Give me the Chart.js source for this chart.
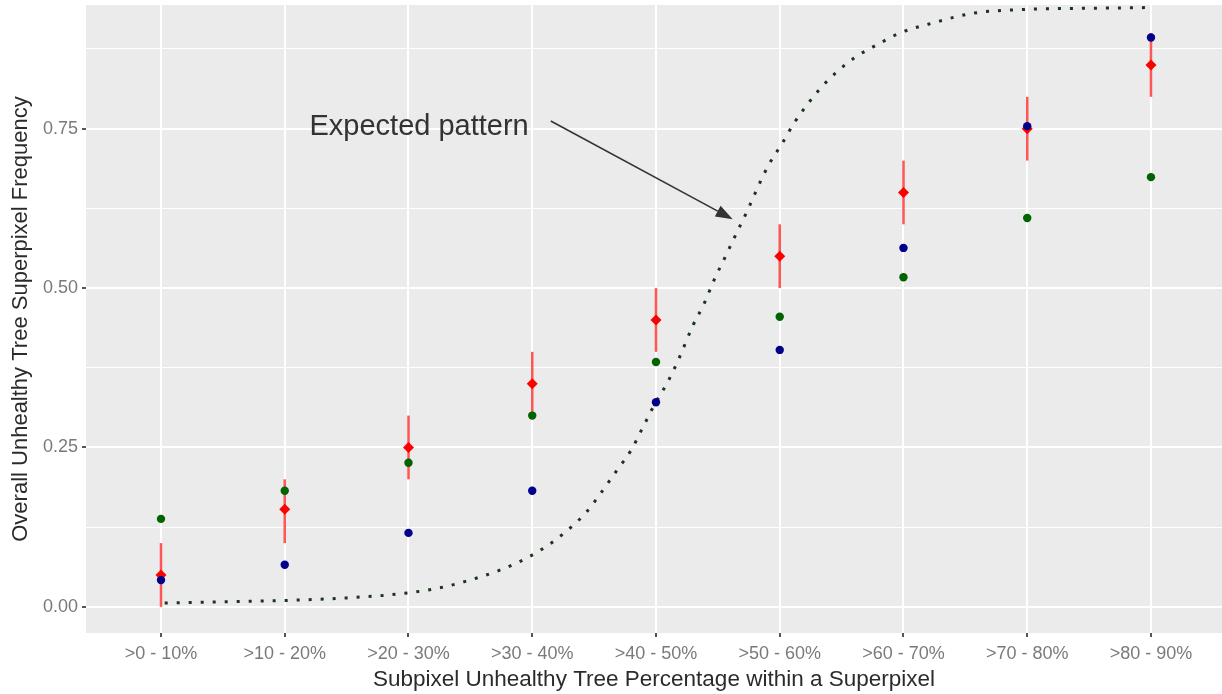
<!DOCTYPE html>
<html>
<head>
<meta charset="utf-8">
<script src="https://cdn.jsdelivr.net/npm/chart.js@4.4.0/dist/chart.umd.min.js"></script>
<style>
  html, body { margin: 0; padding: 0; background: #fff; }
  #wrap { width: 1222px; height: 694px; }
</style>
</head>
<body>
<div id="wrap"><canvas id="chart"></canvas></div>
<script>
// categories on the x axis
const categories = ['>0 - 10%', '>10 - 20%', '>20 - 30%', '>30 - 40%', '>40 - 50%',
                    '>50 - 60%', '>60 - 70%', '>70 - 80%', '>80 - 90%'];

// red point range (overall)
const overallFreq = [0.05, 0.153, 0.25, 0.35, 0.45, 0.55, 0.65, 0.75, 0.85];
const overallLow  = [0.00, 0.10, 0.20, 0.30, 0.40, 0.50, 0.60, 0.70, 0.80];
const overallHigh = [0.10, 0.20, 0.30, 0.40, 0.50, 0.60, 0.70, 0.80, 0.90];

// blue and green points
const blueFreq  = [0.042, 0.066, 0.116, 0.182, 0.321, 0.403, 0.563, 0.754, 0.893];
const greenFreq = [0.138, 0.182, 0.226, 0.300, 0.384, 0.455, 0.517, 0.610, 0.674];

// expected pattern (dotted curve), x in category units
const curveX = [0.03, 0.5, 1.0, 1.5, 2.0, 2.28, 2.58, 2.77, 2.96, 3.13, 3.29, 3.44, 3.56, 3.68, 3.80,
                3.89, 3.99, 4.09, 4.18, 4.30, 4.39, 4.47, 4.56, 4.65, 4.74, 4.82, 4.91, 5.02,
                5.12, 5.31, 5.45, 5.61, 5.79, 5.97, 6.26, 6.56, 6.97, 7.59, 7.99];
const curveY = [0.006, 0.008, 0.010, 0.014, 0.022, 0.031, 0.047, 0.060, 0.077, 0.097, 0.121, 0.149, 0.180,
                0.213, 0.246, 0.280, 0.318, 0.351, 0.387, 0.442, 0.476, 0.513, 0.549, 0.586, 0.622,
                0.657, 0.693, 0.727, 0.760, 0.809, 0.837, 0.862, 0.882, 0.900, 0.917, 0.931, 0.937,
                0.939, 0.940];

// y ticks
const yTicks = [0, 0.25, 0.5, 0.75];
const yTickLabels = ['0.00', '0.25', '0.50', '0.75'];
const yMinorTicks = [0.125, 0.375, 0.625, 0.875];

// annotation
const noteText = 'Expected pattern';
const notePos = [1.2, 0.74];
const arrowFrom = [3.15, 0.762];
const arrowTo = [4.62, 0.608];

const FONT = '"Liberation Sans", Arial, sans-serif';

const panelBackground = {
    id: 'panelBackground',
    beforeDraw(chart) {
        const { ctx, chartArea: a } = chart;
        ctx.save();
        ctx.fillStyle = '#ebebeb';
        ctx.fillRect(a.left, a.top, a.width, a.height);
        ctx.restore();
    }
};

// error bars drawn just before the red points
const errorBars = {
    id: 'errorBars',
    beforeDatasetDraw(chart, args) {
        if (args.index !== 2) return;
        const { ctx, scales: { x, y } } = chart;
        ctx.save();
        ctx.strokeStyle = 'rgba(255, 30, 30, 0.75)';
        ctx.lineWidth = 2.5;
        overallLow.forEach((lo, i) => {
            const px = x.getPixelForValue(i);
            ctx.beginPath();
            ctx.moveTo(px, y.getPixelForValue(lo));
            ctx.lineTo(px, y.getPixelForValue(overallHigh[i]));
            ctx.stroke();
        });
        ctx.restore();
    }
};

const annotation = {
    id: 'annotation',
    afterDatasetsDraw(chart) {
        const { ctx, scales: { x, y } } = chart;
        ctx.save();
        ctx.fillStyle = '#333';
        ctx.font = '29px ' + FONT;
        ctx.textBaseline = 'alphabetic';
        ctx.fillText(noteText, x.getPixelForValue(notePos[0]), y.getPixelForValue(notePos[1]));

        const x1 = x.getPixelForValue(arrowFrom[0]), y1 = y.getPixelForValue(arrowFrom[1]);
        const x2 = x.getPixelForValue(arrowTo[0]), y2 = y.getPixelForValue(arrowTo[1]);
        const ang = Math.atan2(y2 - y1, x2 - x1);
        const len = 17, half = 6;
        const bx = x2 - len * Math.cos(ang), by = y2 - len * Math.sin(ang);
        ctx.strokeStyle = '#333';
        ctx.lineWidth = 1.6;
        ctx.beginPath();
        ctx.moveTo(x1, y1);
        ctx.lineTo(bx, by);
        ctx.stroke();
        ctx.beginPath();
        ctx.moveTo(x2, y2);
        ctx.lineTo(bx + half * Math.sin(ang), by - half * Math.cos(ang));
        ctx.lineTo(bx - half * Math.sin(ang), by + half * Math.cos(ang));
        ctx.closePath();
        ctx.fill();
        ctx.restore();
    }
};

// drop the label overhang padding chart.js adds, so the panel fills the frame like ggplot
function noOverhang(scale) {
    scale.paddingTop = 0;
    scale.paddingBottom = 0;
    scale.paddingLeft = 0;
    scale.paddingRight = 0;
}

const ctx = document.getElementById('chart').getContext('2d');
new Chart(ctx, {
    type: 'scatter',
    data: {
        datasets: [
            {
                label: 'Blue',
                data: blueFreq.map((v, i) => ({ x: i, y: v })),
                backgroundColor: '#00008b',
                borderColor: '#00008b',
                pointRadius: 4.2,
                borderWidth: 0
            },
            {
                label: 'Green',
                data: greenFreq.map((v, i) => ({ x: i, y: v })),
                backgroundColor: '#006400',
                borderColor: '#006400',
                pointRadius: 4.2,
                borderWidth: 0
            },
            {
                label: 'Overall',
                data: overallFreq.map((v, i) => ({ x: i, y: v })),
                backgroundColor: '#ff0000',
                borderColor: '#ff0000',
                pointStyle: 'rectRot',
                pointRadius: 5.5,
                borderWidth: 0
            },
            {
                label: 'Expected',
                type: 'line',
                data: curveX.map((v, i) => ({ x: v, y: curveY[i] })),
                borderColor: '#1c331c',
                borderWidth: 3,
                borderDash: [3, 9],
                borderCapStyle: 'butt',
                cubicInterpolationMode: 'monotone',
                pointRadius: 0,
                fill: false
            }
        ]
    },
    options: {
        responsive: true,
        maintainAspectRatio: false,
        animation: false,
        layout: { autoPadding: false, padding: { top: 5, right: 0, left: 0, bottom: 0 } },
        plugins: {
            legend: { display: false },
            tooltip: { enabled: false }
        },
        scales: {
            x: {
                type: 'linear',
                min: -0.606,
                max: 8.574,
                afterBuildTicks: scale => { scale.ticks = categories.map((c, i) => ({ value: i })); },
                afterFit: scale => { scale.height = 61; noOverhang(scale); },
                border: { display: false },
                grid: {
                    color: '#ffffff',
                    lineWidth: 2,
                    tickLength: 4,
                    tickColor: '#555',
                    tickWidth: 2
                },
                ticks: {
                    autoSkip: false,
                    maxRotation: 0,
                    padding: 6,
                    color: '#7a7a7a',
                    font: { family: FONT, size: 18 },
                    callback: v => categories[v]
                },
                title: {
                    display: true,
                    text: 'Subpixel Unhealthy Tree Percentage within a Superpixel',
                    color: '#2b2b2b',
                    font: { family: FONT, size: 22.5 },
                    padding: { top: 0, bottom: 1 }
                }
            },
            y: {
                min: -0.041,
                max: 0.944,
                afterBuildTicks: scale => {
                    scale.ticks = yTicks.concat(yMinorTicks).sort((a, b) => a - b).map(v => ({ value: v }));
                },
                afterFit: scale => { scale.width = 86; noOverhang(scale); },
                border: { display: false },
                grid: {
                    color: '#ffffff',
                    lineWidth: c => yTicks.includes(c.tick.value) ? 2 : 1,
                    tickLength: 4,
                    tickColor: c => yTicks.includes(c.tick.value) ? '#555' : 'rgba(0,0,0,0)',
                    tickWidth: 2
                },
                ticks: {
                    padding: 4,
                    color: '#7a7a7a',
                    font: { family: FONT, size: 18 },
                    callback: v => {
                        const k = yTicks.indexOf(v);
                        return k >= 0 ? yTickLabels[k] : '';
                    }
                },
                title: {
                    display: true,
                    text: 'Overall Unhealthy Tree Superpixel Frequency',
                    color: '#2b2b2b',
                    font: { family: FONT, size: 22 },
                    padding: { top: 8, bottom: 0 }
                }
            }
        }
    },
    plugins: [panelBackground, errorBars, annotation]
});
</script>
</body>
</html>
